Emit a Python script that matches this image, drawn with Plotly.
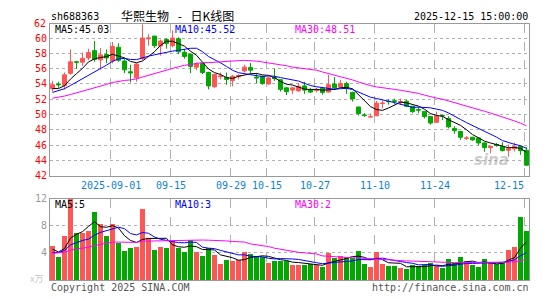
import plotly.graph_objects as go

# ---------------- data ----------------
opens = [53.4, 54.0, 53.8, 55.4, 56.9, 56.85, 57.4, 58.35, 57.15, 57.85,
         57.0, 58.8, 57.0, 55.6, 54.8, 57.3, 59.9, 60.25, 58.95, 59.8,
         59.0, 59.9, 58.15, 57.9, 56.2, 56.7, 55.5, 53.65, 54.95, 54.85,
         54.45, 55.0, 55.7, 56.15, 54.9, 55.0, 54.0, 54.85, 54.55, 53.5,
         53.2, 53.1, 53.75, 53.3, 53.15, 53.45, 52.95, 54.0, 53.6, 54.05,
         52.9, 51.0, 49.95, 49.7, 49.85, 51.45, 51.75, 51.8, 51.65, 51.75,
         51.1, 50.65, 50.4, 49.75, 49.0, 49.9, 49.5, 48.2, 47.8, 46.9,
         47.05, 46.95, 46.3, 45.7, 46.1, 45.85, 45.35, 45.55, 45.85, 45.35]
highs = [54.4, 54.3, 55.5, 58.5, 56.95, 58.1, 58.6, 59.6, 58.7, 58.5,
         59.5, 59.3, 57.3, 56.5, 56.7, 61.8, 60.5, 60.3, 59.8, 60.0,
         61.0, 60.1, 58.5, 57.9, 56.8, 56.8, 55.6, 55.35, 55.5, 55.5,
         55.2, 55.3, 56.5, 56.75, 55.4, 55.1, 55.0, 56.0, 54.6, 53.6,
         53.6, 54.1, 54.3, 53.5, 53.5, 53.5, 55.2, 54.9, 54.55, 54.3,
         53.0, 51.0, 50.2, 50.15, 51.8, 51.85, 52.0, 52.1, 52.1, 51.9,
         51.1, 51.0, 50.4, 49.8, 50.4, 50.0, 49.8, 48.5, 47.9, 47.2,
         47.1, 47.0, 46.4, 45.85, 46.3, 46.4, 46.1, 46.35, 45.95, 45.75]
lows = [53.0, 53.5, 53.3, 55.2, 56.0, 56.4, 57.1, 56.9, 55.9, 56.7,
        56.7, 56.9, 55.4, 54.2, 54.3, 57.1, 59.0, 58.7, 57.7, 58.6,
        58.8, 57.9, 57.3, 55.4, 55.8, 55.3, 53.3, 53.5, 54.6, 53.9,
        53.7, 54.6, 55.5, 55.4, 54.1, 53.9, 53.9, 54.4, 53.0, 52.55,
        52.7, 53.0, 52.7, 52.8, 52.9, 52.6, 52.9, 53.2, 53.5, 52.7,
        51.7, 49.9, 49.7, 49.7, 49.8, 50.8, 51.3, 51.4, 51.3, 51.0,
        50.2, 50.2, 49.5, 48.7, 48.9, 49.3, 48.2, 47.5, 46.7, 46.7,
        46.6, 46.0, 45.15, 44.95, 45.8, 45.2, 44.5, 45.2, 44.75, 43.35]
closes = [53.9, 53.9, 55.2, 56.9, 56.85, 57.35, 58.1, 57.2, 57.8, 57.4,
          58.9, 57.1, 55.85, 55.45, 56.6, 60.0, 60.0, 59.0, 59.6, 59.3,
          60.0, 58.2, 57.6, 56.3, 56.65, 55.5, 53.75, 55.25, 55.05, 54.6,
          55.0, 55.1, 56.2, 55.8, 54.8, 54.05, 54.8, 54.7, 53.3, 53.0,
          53.5, 53.7, 53.2, 52.95, 53.2, 52.9, 53.9, 53.5, 54.05, 53.4,
          52.05, 50.15, 49.9, 49.72, 51.5, 51.5, 51.7, 51.75, 51.7, 51.1,
          50.4, 50.6, 49.75, 48.9, 49.8, 49.85, 48.4, 47.9, 47.05, 46.95,
          46.7, 46.3, 45.7, 45.85, 46.0, 45.3, 45.55, 45.85, 45.3, 43.4]
volumes = [5.0, 3.45, 6.45, 12.0, 6.9, 7.0, 7.3, 10.0, 8.25, 6.45,
           8.25, 5.5, 4.3, 4.75, 4.9, 10.55, 6.2, 4.45, 4.9, 4.75,
           5.7, 4.75, 4.1, 5.9, 4.15, 3.6, 4.75, 3.75, 2.3, 2.9,
           2.75, 2.9, 4.15, 3.9, 3.45, 3.45, 2.5, 2.75, 2.85, 2.85,
           2.2, 2.2, 2.2, 2.3, 2.2, 1.9, 4.0, 3.2, 3.6, 3.2,
           3.3, 4.3, 2.3, 1.9, 4.15, 2.3, 2.05, 2.05, 1.75, 1.6,
           2.2, 2.05, 2.2, 2.45, 2.05, 1.75, 3.05, 2.45, 3.45, 2.75,
           2.2, 1.9, 3.05, 2.45, 2.3, 2.45, 4.45, 4.9, 9.3, 7.3]
# estimated closes / volumes of the 29 sessions before the first visible one
# (only used to warm up the moving averages, not drawn)
hist_closes = [50.2, 50.5, 50.9, 50.6, 50.8, 51.0, 50.7, 51.1, 51.0, 51.2,
               52.3, 52.9, 53.1, 52.6, 52.8, 53.0, 52.5, 52.9, 52.7, 52.6,
               52.0, 52.3, 52.6, 52.5, 52.6, 53.9, 53.3, 52.6, 53.3]
hist_volumes = [2.4, 2.7, 2.5, 2.9, 2.6, 2.4, 2.8, 2.6, 2.5, 2.55,
                5.3, 4.8, 5.6, 4.9, 5.2, 5.5, 4.7, 5.0, 5.1, 5.15,
                3.4, 3.8, 3.5, 3.7, 3.6, 5.4, 4.0, 4.2, 4.1]

date_tick_index = [10, 20, 30, 36, 44, 54, 64, 79]
date_tick_text = ['2025-09-01', '09-15', '09-29', '10-15', '10-27', '11-10', '11-24', '12-15']
price_ticks = [42, 44, 46, 48, 50, 52, 54, 56, 58, 60]
volume_ticks = [4, 8, 12]

title_text = '华熙生物 \u2002-\u2002 日K线图'
code_text = 'sh688363'
time_text = '2025-12-15 15:00:00'
price_ma_labels = ['MA5:45.03', 'MA10:45.52', 'MA30:48.51']
volume_ma_labels = ['MA5:5', 'MA10:3', 'MA30:2']

# ---------------- helpers ----------------
RED = '#ff5555'
GREEN = '#00a800'
MA_COLORS = ['#000000', '#0000ff', '#ff00ff']
MONO = 'DejaVu Sans Mono'
W, H = 545, 300


def px(x):
    return x / W


def py(y):
    return 1 - y / H


def moving_average(hist, vals, n):
    full = list(hist) + list(vals)
    off = len(hist)
    out = []
    for i in range(len(vals)):
        seg = full[off + i - n + 1: off + i + 1]
        out.append(sum(seg) / len(seg))
    return out


x = list(range(len(closes)))
bar_colors = [RED if c >= o else GREEN for o, c in zip(opens, closes)]

fig = go.Figure()
fig.add_trace(go.Candlestick(
    x=x, open=opens, high=highs, low=lows, close=closes,
    increasing=dict(line=dict(color=RED, width=1), fillcolor=RED),
    decreasing=dict(line=dict(color=GREEN, width=1), fillcolor=GREEN),
    whiskerwidth=0, xaxis='x', yaxis='y', showlegend=False, hoverinfo='skip'))
for n, col in zip([5, 10, 30], MA_COLORS):
    fig.add_trace(go.Scatter(x=x, y=moving_average(hist_closes, closes, n),
                             mode='lines', line=dict(color=col, width=1),
                             xaxis='x', yaxis='y', showlegend=False, hoverinfo='skip'))

fig.add_trace(go.Bar(x=x, y=volumes, marker=dict(color=bar_colors, line=dict(width=0)),
                     width=0.83, xaxis='x2', yaxis='y2', showlegend=False, hoverinfo='skip'))
for n, col in zip([5, 10, 30], MA_COLORS):
    fig.add_trace(go.Scatter(x=x, y=moving_average(hist_volumes, volumes, n),
                             mode='lines', line=dict(color=col, width=1),
                             xaxis='x2', yaxis='y2', showlegend=False, hoverinfo='skip'))

grid_x = [i - 0.3 for i in date_tick_index]
xr = [-0.417, 79.47]
xdom = [px(50), px(529.3)]
common_x = dict(range=xr, domain=xdom, tickvals=grid_x, showticklabels=False,
                showgrid=True, gridcolor='#b0b0b0', griddash='dash', gridwidth=1,
                showline=True, mirror=True, linecolor='#999999', linewidth=1,
                zeroline=False, ticks='', fixedrange=True)

annotations = []


def text(xp, yp, s, color='#000', size=10, anchor='left', family=MONO, xref='paper', xv=None):
    annotations.append(dict(
        x=xv if xv is not None else px(xp), y=py(yp), xref=xref, yref='paper',
        text=s, showarrow=False, xanchor=anchor, yanchor='middle', borderpad=0,
        font=dict(family=family, size=size, color=color)))


text(50, 11, code_text, size=10, anchor='left')
text(177, 10, title_text, size=12, anchor='center', family='Noto Sans CJK SC')
text(529, 11, time_text, size=10, anchor='right')
for s, xp, col in zip(price_ma_labels, [54, 174, 294], MA_COLORS):
    text(xp, 24, s, color=col, anchor='left')
for s, xp, col in zip(volume_ma_labels, [54, 174, 294], MA_COLORS):
    text(xp, 207, s, color=col, anchor='left')
text(46.5, 18, '62', color='#ff0000', anchor='right')
text(44, 284, 'x万', color='#c8c8c8', size=9, anchor='right', family='Noto Sans CJK SC')
text(50, 293, 'Copyright 2025 SINA.COM', color='#555555', anchor='left')
text(529.5, 293, 'http://finance.sina.com.cn', color='#555555', anchor='right')
for k, (gx, s) in enumerate(zip(grid_x, date_tick_text)):
    last = k == len(grid_x) - 1
    text(0, 186.5, s, color='#0a84d0', anchor='right' if last else 'center', xref='x', xv=gx)
annotations.append(dict(x=px(511), y=py(160), xref='paper', yref='paper', text='<b><i>sina</i></b>',
                        showarrow=False, font=dict(family='DejaVu Sans', size=15, color='rgba(160,160,160,0.55)')))

fig.update_layout(
    width=W, height=H, margin=dict(l=0, r=0, t=0, b=0),
    paper_bgcolor='white', plot_bgcolor='white',
    boxgap=0.1, boxgroupgap=0.25,
    xaxis=dict(anchor='y', rangeslider=dict(visible=False), **common_x),
    xaxis2=dict(anchor='y2', **common_x),
    yaxis=dict(domain=[py(177), py(19)], range=[42, 61.8], tickvals=price_ticks,
               ticktext=[str(v) for v in price_ticks],
               tickfont=dict(family=MONO, size=10, color='#ff0000'),
               showgrid=True, gridcolor='#b0b0b0', griddash='dot', gridwidth=1,
               showline=True, mirror=True, linecolor='#999999', linewidth=1,
               zeroline=False, ticks='', fixedrange=True),
    yaxis2=dict(domain=[py(285.3), py(201)], range=[0, 12], tickvals=volume_ticks,
                ticktext=[str(v) for v in volume_ticks],
                tickfont=dict(family=MONO, size=10, color='#999999'),
                showgrid=True, gridcolor='#b0b0b0', griddash='dot', gridwidth=1,
                showline=True, mirror=True, linecolor='#999999', linewidth=1,
                zeroline=False, ticks='', fixedrange=True),
    annotations=annotations,
    bargap=0,
)

fig.write_html('out.html')
